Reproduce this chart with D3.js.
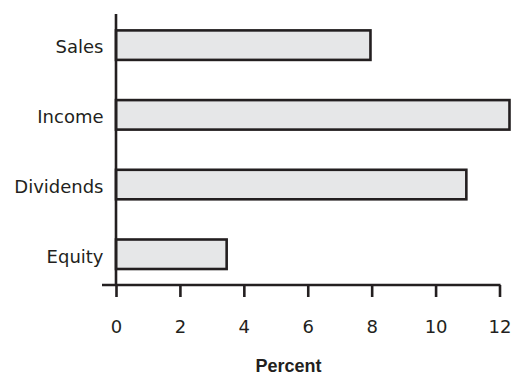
<!DOCTYPE html>
<html><head><meta charset="utf-8">
<script src="https://cdn.jsdelivr.net/npm/d3@7"></script>
<style>
html,body{margin:0;padding:0;background:#fff;}
svg{display:block;}
text{fill:#231f20;}
</style></head>
<body>
<svg id="c" width="513" height="375"></svg>
<script>
const categories = ["Sales", "Income", "Dividends", "Equity"];
const values = [8, 12.35, 11, 3.5];
const tickValues = [0, 2, 4, 6, 8, 10, 12];
const axisTitle = "Percent";

const svg = d3.select("#c");
const ink = "#231f20";
const x = d3.scaleLinear().domain([0, 12]).range([116, 499.5]);
const y = d3.scaleBand().domain(categories).range([14, 285]).paddingInner(0.548).paddingOuter(0.218);

// bars
svg.selectAll("rect.bar").data(categories).enter().append("rect")
  .attr("class", "bar")
  .attr("x", x(0))
  .attr("y", d => y(d) + 1.2)
  .attr("width", (d, i) => x(values[i]) - x(0) - 1.2)
  .attr("height", y.bandwidth() - 2)
  .attr("fill", "#e6e7e8")
  .attr("stroke", ink)
  .attr("stroke-width", 2.6);

// y axis line
svg.append("line").attr("x1", x(0)).attr("x2", x(0)).attr("y1", 14).attr("y2", 285)
  .attr("stroke", ink).attr("stroke-width", 2.6);

// category labels
svg.selectAll("text.cat").data(categories).enter().append("text")
  .attr("class", "cat")
  .attr("x", x(0) - 12.5)
  .attr("y", d => y(d) + y.bandwidth() / 2 + 8.5)
  .attr("text-anchor", "end")
  .style("font-family", "'DejaVu Sans', sans-serif")
  .style("font-size", "18px")
  .text(d => d);

// x axis
const xAxis = d3.axisBottom(x).tickValues(tickValues).tickSize(12).tickPadding(25).tickSizeOuter(0);
const gx = svg.append("g").attr("transform", "translate(0,285)").call(xAxis);
gx.select(".domain").remove();
gx.append("line").attr("x1", 102).attr("x2", 500.5).attr("y1", 0).attr("y2", 0)
  .attr("stroke", ink).attr("stroke-width", 2.6);
gx.selectAll(".tick line").attr("stroke", ink).attr("stroke-width", 2.6);
gx.selectAll(".tick text")
  .attr("fill", ink)
  .attr("dy", null)
  .attr("y", 48)
  .style("font-family", "'DejaVu Sans', sans-serif")
  .style("font-size", "18px");

svg.append("text")
  .attr("x", 288.5).attr("y", 372)
  .attr("text-anchor", "middle")
  .style("font-family", "'Liberation Sans', Arial, sans-serif")
  .style("font-weight", "bold")
  .style("font-size", "18px")
  .text(axisTitle);
</script>
</body></html>
